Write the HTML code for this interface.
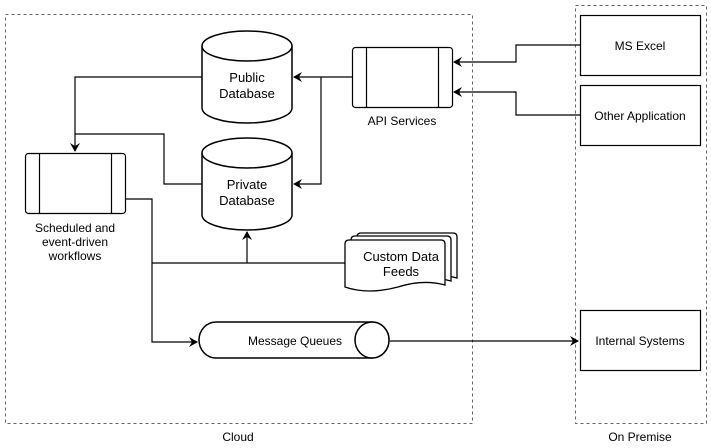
<!DOCTYPE html>
<html><head><style>body{margin:0;background:#fff}svg{display:block}text{font-family:"Liberation Sans",Arial,sans-serif;font-size:12px;fill:#000}.b{font-size:13px}</style></head>
<body>
<svg width="711" height="448" viewBox="0 0 711 448" xmlns="http://www.w3.org/2000/svg">
<defs><marker id="a" markerWidth="10" markerHeight="10" refX="8" refY="5" orient="auto" markerUnits="userSpaceOnUse"><path d="M0,0 L9,5 L0,10 L3,5 Z" fill="#000"/></marker></defs>
<g fill="none" stroke="#666" stroke-dasharray="3,3">
<rect x="5.5" y="14.5" width="467" height="409"/>
<rect x="575.5" y="5.5" width="131" height="418"/>
</g>
<text x="238" y="441" text-anchor="middle">Cloud</text>
<text x="640" y="441" text-anchor="middle">On Premise</text>
<g fill="#fff" stroke="#000" stroke-width="1.2">
<rect x="580.5" y="15.5" width="120" height="60"/>
<rect x="580.5" y="85.5" width="120" height="60"/>
<rect x="580.5" y="310.5" width="120" height="60"/>
</g>
<text x="640" y="50" text-anchor="middle">MS Excel</text>
<text x="640" y="120" text-anchor="middle">Other Application</text>
<text x="640" y="345" text-anchor="middle">Internal Systems</text>
<g fill="none" stroke="#000" stroke-width="1.2">
<path d="M580 45H516V62H454" marker-end="url(#a)"/>
<path d="M580 115H516V92H454" marker-end="url(#a)"/>
<path d="M352 77H294" marker-end="url(#a)"/>
<path d="M321 77V184H294" marker-end="url(#a)"/>
<path d="M202 77H75V151" marker-end="url(#a)"/>
<path d="M202 184H164V134H75"/>
<path d="M125 199H152V342H197" marker-end="url(#a)"/>
<path d="M152 263H345"/>
<path d="M247 263V232" marker-end="url(#a)"/>
<path d="M390 341H578" marker-end="url(#a)"/>
</g>
<g fill="#fff" stroke="#000" stroke-width="1.2">
<rect x="352.5" y="47.5" width="100" height="60" rx="3"/>
<path d="M366.5 47.5V107.5M438.5 47.5V107.5"/>
<rect x="25.5" y="153.5" width="100" height="60" rx="3"/>
<path d="M39.5 153.5V213.5M111.5 153.5V213.5"/>
</g>
<text x="402" y="125" text-anchor="middle">API Services</text>
<text x="75" y="232" text-anchor="middle">Scheduled and</text>
<text x="75" y="246" text-anchor="middle">event-driven</text>
<text x="75" y="260" text-anchor="middle">workflows</text>
<g fill="#fff" stroke="#000" stroke-width="1.5">
<path d="M202 46V108A45 15 0 0 0 292 108V46A45 15 0 0 0 202 46Z"/>
<path d="M202 46A45 15 0 0 0 292 46"/>
<path d="M202 153V215A45 15 0 0 0 292 215V153A45 15 0 0 0 202 153Z"/>
<path d="M202 153A45 15 0 0 0 292 153"/>
</g>
<text class="b" x="247" y="82" text-anchor="middle">Public</text>
<text class="b" x="247" y="98" text-anchor="middle">Database</text>
<text class="b" x="247" y="189" text-anchor="middle">Private</text>
<text class="b" x="247" y="205" text-anchor="middle">Database</text>
<g fill="#fff" stroke="#000" stroke-width="1.3">
<path d="M357 237Q357 233 361 233H453Q457 233 457 237V278Q435 272 410 280Q380 288 357 280Z"/>
<path d="M351 240Q351 236 355 236H447Q451 236 451 240V281Q429 275 404 283Q374 291 351 283Z"/>
<path d="M345 244Q345 240 349 240H441Q445 240 445 244V285Q423 279 398 287Q368 295 345 287Z"/>
</g>
<text class="b" x="401" y="261" text-anchor="middle">Custom Data</text>
<text class="b" x="401" y="276" text-anchor="middle">Feeds</text>
<g fill="#fff" stroke="#000" stroke-width="1.5">
<path d="M216 322H372A17 18 0 0 1 372 358H216A17 18 0 0 1 216 322Z"/>
<ellipse cx="372" cy="340" rx="17" ry="18"/>
</g>
<text x="295" y="345" text-anchor="middle">Message Queues</text>
</svg>
</body></html>
